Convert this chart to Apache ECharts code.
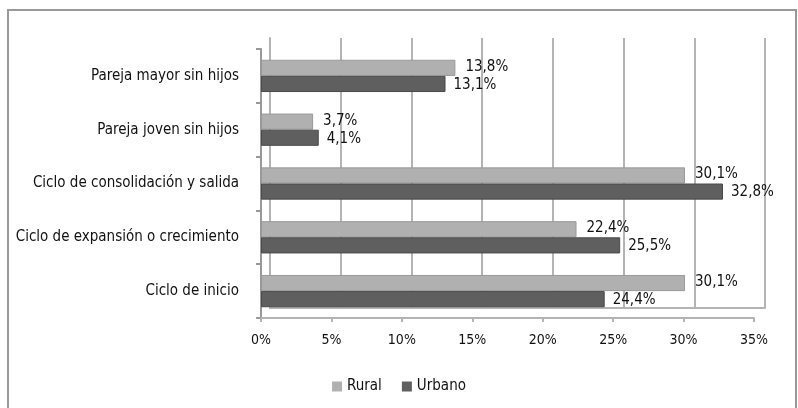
<!DOCTYPE html>
<html>
<head>
<meta charset="utf-8">
<script src="https://cdn.jsdelivr.net/npm/echarts@6/dist/echarts.min.js"></script>
<style>
  html, body { margin: 0; padding: 0; background: #fff; }
  #chart { width: 798px; height: 408px; }
</style>
</head>
<body>
<div id="chart"></div>
<script>
// categorías de abajo hacia arriba
const categories = [
  'Ciclo de inicio',
  'Ciclo de expansión o crecimiento',
  'Ciclo de consolidación y salida',
  'Pareja joven sin hijos',
  'Pareja mayor sin hijos'
]
const rural = [30.1, 22.4, 30.1, 3.7, 13.8]
const urbano = [24.4, 25.5, 32.8, 4.1, 13.1]
const xTicks = [0, 5, 10, 15, 20, 25, 30, 35]

const FONT = '"Liberation Sans Narrow", "DejaVu Sans Condensed", sans-serif'
const RURAL_COLOR = '#b0b0b0'
const URBANO_COLOR = '#5f5f5f'
const GRID_COLOR = '#b4b4b4'

const fmt = v => v.toFixed(1).replace('.', ',') + '%'

const chart = echarts.init(document.getElementById('chart'))

const option = {
  backgroundColor: '#fff',
  animation: false,
  textStyle: { fontFamily: FONT },
  graphic: [{
    type: 'rect',
    shape: { x: 8, y: 10, width: 788, height: 410 },
    style: { fill: 'none', stroke: '#999', lineWidth: 2 },
    silent: true
  }],
  legend: {
    data: ['Rural', 'Urbano'],
    bottom: 9,
    left: 'center',
    itemWidth: 10,
    itemHeight: 10,
    itemGap: 20,
    icon: 'rect',
    itemStyle: { borderWidth: 0 },
    textStyle: { fontFamily: FONT, fontSize: 15, color: '#111' }
  },
  grid: [
    // pared del fondo
    { left: 270, right: 33, top: 38, height: 270 },
    // plano frontal
    { left: 261, right: 44, top: 49, height: 269 }
  ],
  xAxis: [
    {
      gridIndex: 0, type: 'value', min: 0, max: 35, interval: 5,
      axisLabel: { show: false },
      axisTick: { show: false },
      axisLine: { show: true, lineStyle: { color: GRID_COLOR, width: 2 } },
      splitLine: { show: true, lineStyle: { color: GRID_COLOR, width: 2 } }
    },
    {
      gridIndex: 1, type: 'value', min: xTicks[0], max: xTicks[xTicks.length - 1], interval: 5,
      axisLine: { show: true, lineStyle: { color: GRID_COLOR, width: 2 } },
      axisTick: { show: true, length: 4, lineStyle: { color: GRID_COLOR, width: 2 } },
      splitLine: { show: false },
      axisLabel: {
        color: '#111', fontSize: 14, fontFamily: FONT, margin: 15,
        formatter: v => v + '%'
      }
    }
  ],
  yAxis: [
    {
      gridIndex: 0, type: 'category', data: categories,
      axisLabel: { show: false },
      axisTick: { show: false },
      axisLine: { show: true, lineStyle: { color: GRID_COLOR, width: 2 } }
    },
    {
      gridIndex: 1, type: 'category', data: categories,
      axisLine: { show: true, lineStyle: { color: '#999', width: 2 } },
      axisTick: { show: true, length: 5, lineStyle: { color: '#999', width: 2 } },
      axisLabel: { color: '#111', fontSize: 15, fontFamily: FONT, margin: 22 }
    }
  ],
  series: [
    {
      name: 'Rural', type: 'bar', xAxisIndex: 1, yAxisIndex: 1,
      data: rural, barGap: '0%', barCategoryGap: '40%',
      itemStyle: { color: RURAL_COLOR, borderColor: '#999', borderWidth: 1 },
      label: {
        show: true, position: 'right', distance: 10, offset: [0, -1],
        color: '#111', fontSize: 15, fontFamily: FONT,
        formatter: p => fmt(p.value)
      }
    },
    {
      name: 'Urbano', type: 'bar', xAxisIndex: 1, yAxisIndex: 1,
      data: urbano, barGap: '0%', barCategoryGap: '40%',
      itemStyle: { color: URBANO_COLOR, borderColor: '#4a4a4a', borderWidth: 1 },
      label: {
        show: true, position: 'right', distance: 8, offset: [0, 1],
        color: '#111', fontSize: 15, fontFamily: FONT,
        formatter: p => fmt(p.value)
      }
    }
  ]
}

chart.setOption(option)
</script>
</body>
</html>
